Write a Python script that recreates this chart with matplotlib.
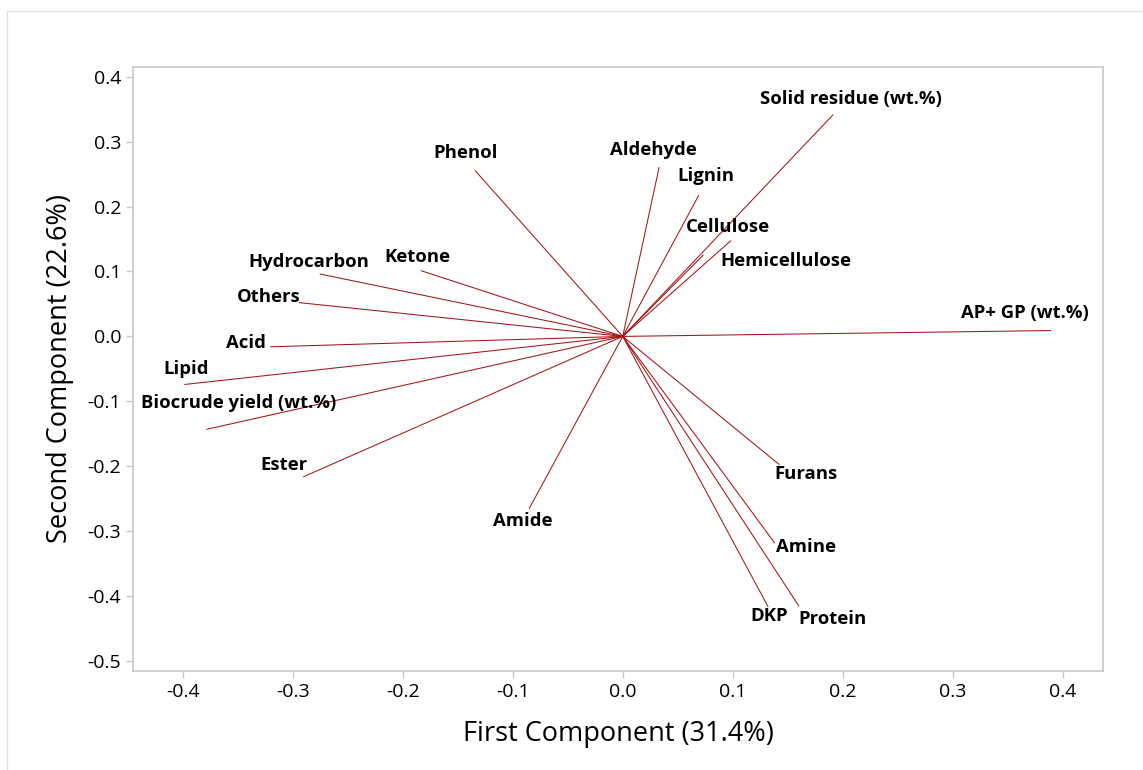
import matplotlib
matplotlib.use("Agg")
from matplotlib import pyplot as plt
from matplotlib.patches import Rectangle

plt.rcParams["font.family"] = ["Open Sans", "DejaVu Sans"]

# loadings on the first two principal components
variables = [
    "Solid residue (wt.%)", "Phenol", "Aldehyde", "Lignin", "Cellulose",
    "Hemicellulose", "Hydrocarbon", "Ketone", "Others", "Acid", "Lipid",
    "Biocrude yield (wt.%)", "Ester", "AP+ GP (wt.%)", "Amide", "Furans",
    "Amine", "DKP", "Protein",
]
pc1 = [0.191, -0.134, 0.033, 0.069, 0.073, 0.098, -0.275, -0.183, -0.294,
       -0.320, -0.398, -0.378, -0.290, 0.389, -0.085, 0.142, 0.138, 0.132, 0.160]
pc2 = [0.341, 0.255, 0.260, 0.217, 0.125, 0.147, 0.096, 0.101, 0.052,
       -0.016, -0.074, -0.143, -0.216, 0.009, -0.265, -0.197, -0.318, -0.416, -0.415]

# label offsets from the arrow tip, in pixels
label_dx = [18, -10, -6, 7, 25, 55, -11, -4, -31, -25, 1, 32, -20, -26, -6, 27, 31, 1, 34]
label_dy = [16, 18, 18, 20, 28, -20, 12, 14, 6, 4, 15, 26, 12, 18, -13, -10, -4, -10, -13]

x_ticks = [-0.4, -0.3, -0.2, -0.1, 0.0, 0.1, 0.2, 0.3, 0.4]
y_ticks = [0.4, 0.3, 0.2, 0.1, 0.0, -0.1, -0.2, -0.3, -0.4, -0.5]

fig = plt.figure(figsize=(11.43, 7.70), dpi=100)
ax = fig.add_axes([133 / 1143, 1 - 670.7 / 770, (1103 - 133) / 1143, (670.7 - 66.7) / 770])

# thin outer frame
fig.patches.append(Rectangle((7 / 1143, -0.1), 1.2, 1 - 11 / 770 + 0.1,
                             transform=fig.transFigure, fill=False,
                             edgecolor="#e3e3e3", linewidth=1.0))

line_color = "#a31515"
for name, x, y, dx, dy in zip(variables, pc1, pc2, label_dx, label_dy):
    ax.plot([0, x], [0, y], color=line_color, linewidth=0.75)
    ax.annotate(name, (x, y), xytext=(dx, dy), textcoords="offset pixels",
                ha="center", va="center", fontsize=13.3, fontweight="bold")

ax.set_xlim(-0.4452, 0.4366)
ax.set_ylim(-0.5149, 0.4154)
ax.set_xticks(x_ticks)
ax.set_yticks(y_ticks)
ax.set_xticklabels([f"{t:.1f}" for t in x_ticks])
ax.set_yticklabels([f"{t:.1f}" for t in y_ticks])
ax.tick_params(colors="#c8c8c8", labelcolor="black", labelsize=14, length=5, width=1)

for s in ax.spines.values():
    s.set_color("#c8c8c8")
    s.set_linewidth(1.2)

ax.set_xlabel("First Component (31.4%)", fontsize=19.5, labelpad=14)
ax.set_ylabel("Second Component (22.6%)", fontsize=19.5, labelpad=10)

plt.savefig("out.png", dpi=100)
